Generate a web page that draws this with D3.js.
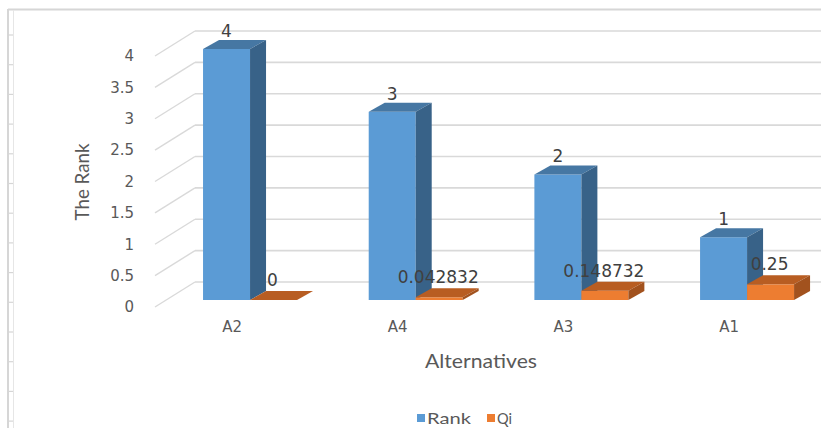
<!DOCTYPE html>
<html><head><meta charset="utf-8">
<script src="https://cdn.jsdelivr.net/npm/d3@7"></script>
<style>body{margin:0;background:#fff}svg{display:block}</style>
</head><body>
<svg id="c" width="821" height="428"></svg>
<script>
const categories = ["A2", "A4", "A3", "A1"];
const seriesNames = ["Rank", "Qi"];
const rankValues = [4, 3, 2, 1];
const qiValues = [0, 0.042832, 0.148732, 0.25];
const qiLabels = ["0", "0.042832", "0.148732", "0.25"];
const yTicks = [0, 0.5, 1, 1.5, 2, 2.5, 3, 3.5, 4];

const svg = d3.select("#c");
const textCol = "#595959";
const gridCol = "#d9d9d9";

// frame / spreadsheet edge
svg.append("line").attr("x1",8).attr("x2",821).attr("y1",9.5).attr("y2",9.5).attr("stroke","#d6d6d6").attr("stroke-width",2);
svg.append("line").attr("x1",8).attr("x2",8).attr("y1",9).attr("y2",428).attr("stroke","#d6d6d6").attr("stroke-width",2);
svg.append("line").attr("x1",13.5).attr("x2",13.5).attr("y1",10).attr("y2",428).attr("stroke","#e6e6e6").attr("stroke-width",1);
d3.range(14).forEach(i=>{
  const yy = 35 + i*29.7;
  svg.append("line").attr("x1",8).attr("x2",13).attr("y1",yy).attr("y2",yy).attr("stroke","#d6d6d6").attr("stroke-width",1.2);
});

const y = d3.scaleLinear().domain([0,4]).range([300,49]);
const x0 = d3.scaleBand().domain(categories).range([167.2, 829.9]).paddingInner(0.4326).paddingOuter(0.2163);
const x1 = d3.scaleBand().domain(seriesNames).range([0, x0.bandwidth()]).padding(0);

// back wall gridlines + floor/side diagonals
const wallDx = 40, wallDy = -25;
yTicks.forEach(v=>{
  svg.append("line").attr("x1",195).attr("x2",821).attr("y1",y(v)-18).attr("y2",y(v)-18)
    .attr("stroke",gridCol).attr("stroke-width",1.6);
  svg.append("line").attr("x1",155).attr("y1",y(v)+7).attr("x2",155+wallDx).attr("y2",y(v)+7+wallDy)
    .attr("stroke",gridCol).attr("stroke-width",1.4);
});

// y tick labels
svg.append("g").selectAll("text").data(yTicks).join("text")
  .attr("x",134).attr("y",d=>y(d)+7).attr("dy","0.35em").attr("text-anchor","end")
  .attr("font-family","DejaVu Sans").attr("font-size",15).attr("fill",textCol)
  .text(d=>d3.format("")(d));

// bars
const dx = 16, dy = -9;
const colors = {
  Rank:{front:"#5b9bd5", top:"#4677a3", side:"#386288"},
  Qi:{front:"#ed7d31", top:"#b85d22", side:"#a2521e"}
};
const rows = categories.map((c,i)=>({cat:c, Rank:rankValues[i], Qi:qiValues[i], QiLabel:qiLabels[i]}));
const gBars = svg.append("g");
rows.forEach(r=>{
  seriesNames.forEach(s=>{
    const x = x0(r.cat) + x1(s), w = x1.bandwidth();
    const top = y(r[s]), bot = y(0);
    const col = colors[s];
    gBars.append("rect").attr("x",x).attr("y",top).attr("width",w).attr("height",bot-top).attr("fill",col.front);
    gBars.append("path").attr("d",`M${x},${top}L${x+dx},${top+dy}L${x+w+dx},${top+dy}L${x+w},${top}Z`).attr("fill",col.top);
    gBars.append("path").attr("d",`M${x+w},${top}L${x+w+dx},${top+dy}L${x+w+dx},${bot+dy}L${x+w},${bot}Z`).attr("fill",col.side);
  });
});

// data labels
rows.forEach(r=>{
  const xb = x0(r.cat)+x1("Rank")+x1.bandwidth()/2;
  svg.append("text").attr("x",xb).attr("y",y(r.Rank)-18).attr("dy","0.35em").attr("text-anchor","middle")
    .attr("font-family","DejaVu Sans").attr("font-size",17).attr("fill","#404040").text(r.Rank);
  const xq = x0(r.cat)+x1("Qi")+x1.bandwidth()/2 - 1;
  svg.append("text").attr("x",xq).attr("y",y(r.Qi)-20).attr("dy","0.35em").attr("text-anchor","middle")
    .attr("font-family","DejaVu Sans").attr("font-size",17).attr("fill","#404040").text(r.QiLabel);
});

// category labels
svg.append("g").selectAll("text").data(categories).join("text")
  .attr("x",d=>x0(d)+x0.bandwidth()/2-18).attr("y",327).attr("dy","0.35em").attr("text-anchor","middle")
  .attr("font-family","DejaVu Sans").attr("font-size",15).attr("fill",textCol).text(d=>d);

// axis titles
svg.append("text").attr("transform","translate(89,182) rotate(-90)").attr("text-anchor","middle")
  .attr("font-family","Lato").attr("font-size",19).attr("fill",textCol)
  .attr("textLength",77).attr("lengthAdjust","spacingAndGlyphs").text("The Rank");
svg.append("text").attr("x",481).attr("y",368).attr("text-anchor","middle")
  .attr("font-family","Lato").attr("font-size",19).attr("fill",textCol)
  .attr("textLength",112).attr("lengthAdjust","spacingAndGlyphs").text("Alternatives");

// legend
const lg = svg.append("g");
const legendItems = [{name:"Rank", sx:417, tx:427, tl:44},{name:"Qi", sx:487, tx:497, tl:15}];
legendItems.forEach(it=>{
  lg.append("rect").attr("x",it.sx).attr("y",414).attr("width",8).attr("height",8).attr("fill",colors[it.name].front);
  lg.append("text").attr("x",it.tx).attr("y",423.5).attr("font-family","Lato").attr("font-size",15)
    .attr("fill",textCol).attr("textLength",it.tl).attr("lengthAdjust","spacingAndGlyphs").text(it.name);
});
</script>
</body></html>
